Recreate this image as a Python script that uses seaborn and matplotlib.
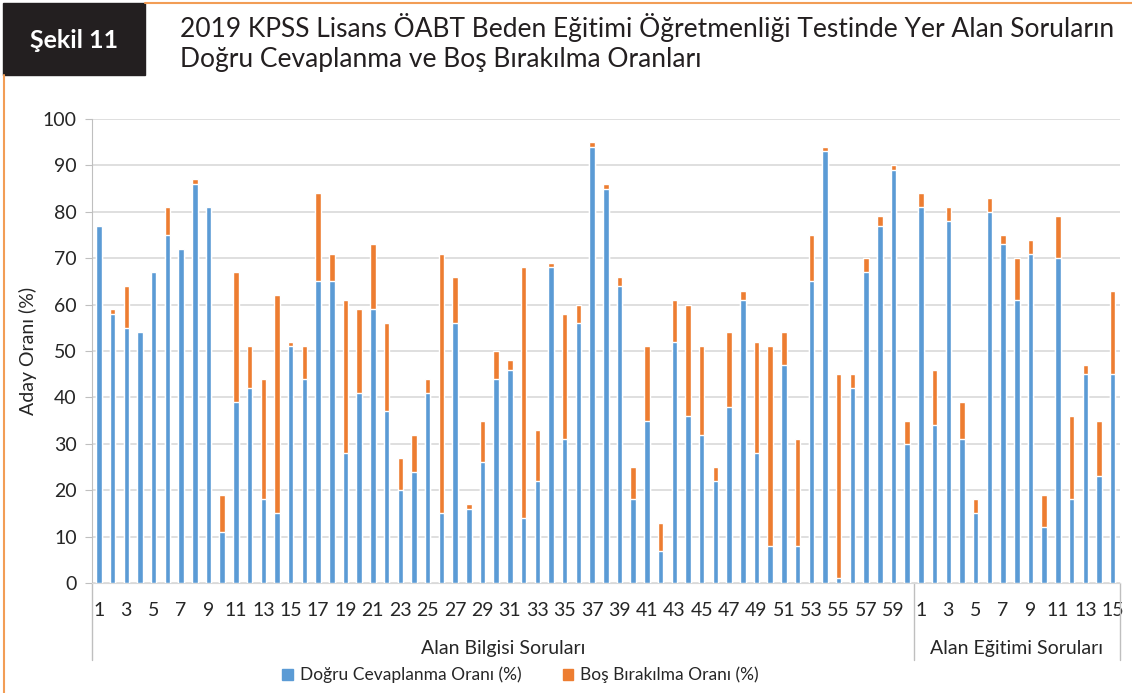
import numpy as np
import pandas as pd
import matplotlib
matplotlib.use("Agg")
import matplotlib.pyplot as plt
from matplotlib.patches import Patch, Rectangle
import seaborn as sns

# Alan Bilgisi (1-60) and Alan Egitimi (1-15) questions
ab_dogru = [77, 58, 55, 54, 67, 75, 72, 86, 81, 11,
            39, 42, 18, 15, 51, 44, 65, 65, 28, 41,
            59, 37, 20, 24, 41, 15, 56, 16, 26, 44,
            46, 14, 22, 68, 31, 56, 94, 85, 64, 18,
            35, 7, 52, 36, 32, 22, 38, 61, 28, 8,
            47, 8, 65, 93, 1, 42, 67, 77, 89, 30]
ab_toplam = [77, 59, 64, 54, 67, 81, 72, 87, 81, 19,
             67, 51, 44, 62, 52, 51, 84, 71, 61, 59,
             73, 56, 27, 32, 44, 71, 66, 17, 35, 50,
             48, 68, 33, 69, 58, 60, 95, 86, 66, 25,
             51, 13, 61, 60, 51, 25, 54, 63, 52, 51,
             54, 31, 75, 94, 45, 45, 70, 79, 90, 35]
ae_dogru = [81, 34, 78, 31, 15, 80, 73, 61, 71, 12, 70, 18, 45, 23, 45]
ae_toplam = [84, 46, 81, 39, 18, 83, 75, 70, 74, 19, 79, 36, 47, 35, 63]

gruplar = ["Alan Bilgisi Soruları", "Alan Eğitimi Soruları"]
seri_adlari = ["Doğru Cevaplanma Oranı (%)", "Boş Bırakılma Oranı (%)"]

mavi = "#5B9BD5"
turuncu = "#ED7D31"

df = pd.DataFrame({
    "soru": list(range(1, 61)) + list(range(1, 16)),
    "grup": [gruplar[0]] * 60 + [gruplar[1]] * 15,
    "dogru": ab_dogru + ae_dogru,
    "toplam": ab_toplam + ae_toplam,
})
df["pos"] = np.arange(len(df))

sns.set_style("white")
plt.rcParams["font.family"] = ["Lato", "DejaVu Sans"]

fig = plt.figure(figsize=(11.32, 6.93), dpi=100)
ax = fig.add_axes([0.0813, 0.1587, 0.9077, 0.6696])

# stacked look: total (orange) underneath, correct (blue) on top
sns.barplot(data=df, x="pos", y="toplam", color=turuncu, width=0.4,
            saturation=1, ax=ax, zorder=2)
sns.barplot(data=df, x="pos", y="dogru", color=mavi, width=0.4,
            saturation=1, ax=ax, zorder=3)

ax.set_xlim(-0.5, len(df) - 0.5)
ax.set_ylim(0, 100)
ax.set_yticks(range(0, 101, 10))
ax.yaxis.grid(True, color="#D9D9D9", linewidth=1.2, zorder=0)
ax.set_axisbelow(True)
for s in ["top", "right"]:
    ax.spines[s].set_visible(False)
ax.spines["left"].set_color("#BFBFBF")
ax.spines["bottom"].set_color("#D9D9D9")

tick_pos = df["pos"][::2]
ax.set_xticks(tick_pos)
ax.set_xticklabels(df["soru"][::2], fontsize=14)
ax.tick_params(axis="x", length=0, pad=14)
ax.tick_params(axis="y", length=5, color="#BFBFBF", labelsize=14, pad=6, left=True)
ax.set_xlabel("")
ax.set_ylabel("Aday Oranı (%)", fontsize=14, labelpad=4)

# group separators and labels under the category axis
trans = ax.get_xaxis_transform()
n_ab = len(ab_dogru)
for xs in [-0.5, n_ab - 0.5, len(df) - 0.5]:
    ax.plot([xs, xs], [0, -0.166], transform=trans, color="#BFBFBF",
            linewidth=1, clip_on=False)
ax.text((n_ab - 1) / 2, -0.142, gruplar[0], transform=trans,
        ha="center", va="center", fontsize=14)
ax.text(n_ab + (len(ae_dogru) - 1) / 2, -0.142, gruplar[1], transform=trans,
        ha="center", va="center", fontsize=14)

handles = [Patch(color=mavi, label=seri_adlari[0]),
           Patch(color=turuncu, label=seri_adlari[1])]
fig.legend(handles=handles, loc="center", bbox_to_anchor=(0.46, 1 - 675 / 693),
           ncol=2, frameon=False, fontsize=12.5, handlelength=0.6,
           handleheight=0.6, columnspacing=2.4, handletextpad=0.4)

# header
fig.patches.append(Rectangle((3 / 1132, 1 - 75 / 693), 142 / 1132, 72 / 693,
                             transform=fig.transFigure, color="#231F20"))
fig.text(74 / 1132, 1 - 40 / 693, "Şekil 11", color="white", fontsize=18,
         ha="center", va="center", weight="bold")
fig.add_artist(plt.Line2D([145 / 1132, 1], [1 - 3 / 693, 1 - 3 / 693],
                          transform=fig.transFigure, color="#F29D55", linewidth=1.5))
fig.add_artist(plt.Line2D([4 / 1132, 4 / 1132], [0, 1 - 75 / 693],
                          transform=fig.transFigure, color="#F29D55", linewidth=1.5))
fig.text(180 / 1132, 1 - 28 / 693,
         "2019 KPSS Lisans ÖABT Beden Eğitimi Öğretmenliği Testinde Yer Alan Soruların",
         fontsize=19, ha="left", va="center", color="#231F20")
fig.text(180 / 1132, 1 - 60 / 693, "Doğru Cevaplanma ve Boş Bırakılma Oranları",
         fontsize=19, ha="left", va="center", color="#231F20")

fig.savefig("out.png", dpi=100)
